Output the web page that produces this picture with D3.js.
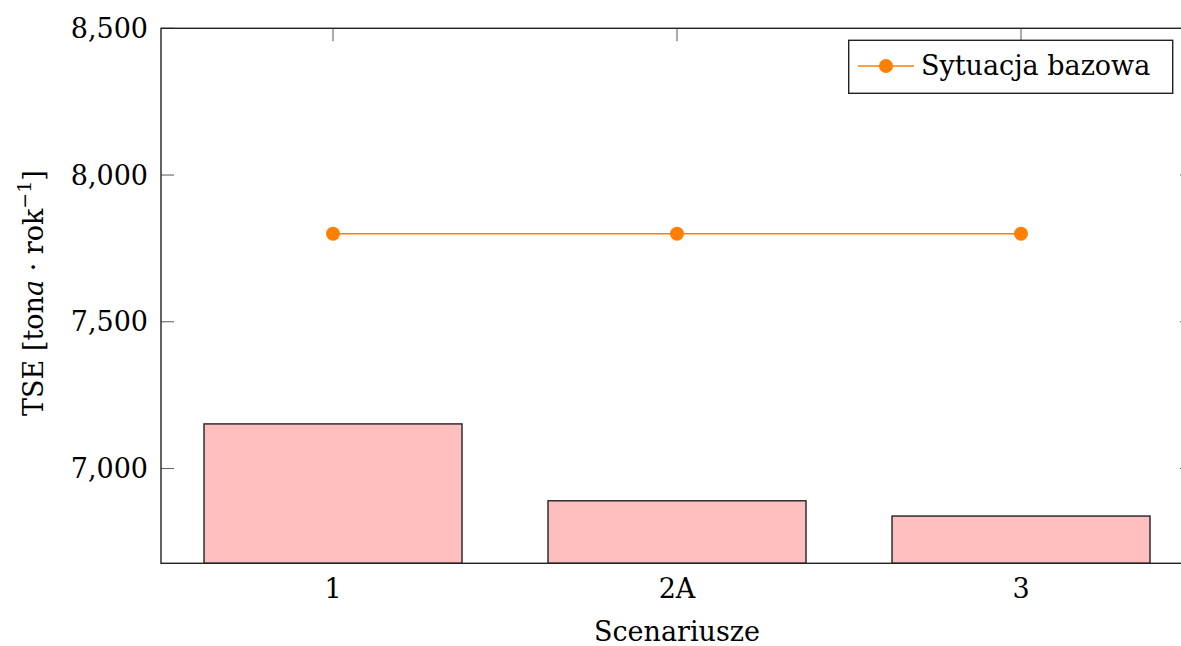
<!DOCTYPE html>
<html><head><meta charset="utf-8">
<script src="https://cdn.jsdelivr.net/npm/d3@7"></script>
<style>
html,body{margin:0;padding:0;background:#fff;}
svg{display:block;}
svg text{font-family:"DejaVu Serif","Liberation Serif",serif;}
</style></head>
<body>
<svg id="chart" width="1181" height="646"></svg>
<script>
const categories = ["1", "2A", "3"];
const tseValues = [7152, 6890, 6838];
const baseline = [7800, 7800, 7800];
const yTicks = [7000, 7500, 8000, 8500];
const seriesName = "Sytuacja bazowa";
const xTitle = "Scenariusze";

(function () {
const svg = d3.select("#chart");
const pL = 161, pR = 1193, pT = 28.3, pB = 563.3;
const x = d3.scalePoint().domain(categories).range([pL, pR]).padding(0.5);
const y = d3.scaleLinear().domain([6677, 8500]).range([pB, pT]);
const bw = x.step() * 0.75;
const fmt = d3.format(",");
const tickLen = 13;
const fs = 27;

// ticks (inward)
const tg = svg.append("g").attr("stroke", "#666").attr("stroke-width", 1.1);
yTicks.forEach(v => {
  tg.append("line").attr("x1", pL).attr("x2", pL + tickLen).attr("y1", y(v)).attr("y2", y(v));
  tg.append("line").attr("x1", pR).attr("x2", pR - tickLen).attr("y1", y(v)).attr("y2", y(v));
});
categories.forEach(c => {
  tg.append("line").attr("x1", x(c)).attr("x2", x(c)).attr("y1", pT).attr("y2", pT + tickLen);
  tg.append("line").attr("x1", x(c)).attr("x2", x(c)).attr("y1", pB).attr("y2", pB - tickLen);
});

// bars
svg.append("g").selectAll("rect").data(categories).join("rect")
  .attr("x", d => x(d) - bw / 2)
  .attr("y", (d, i) => y(tseValues[i]))
  .attr("width", bw)
  .attr("height", (d, i) => pB - y(tseValues[i]))
  .attr("fill", "#ffbfbf").attr("stroke", "#222").attr("stroke-width", 1.4);

// frame
svg.append("rect").attr("x", pL).attr("y", pT).attr("width", pR - pL).attr("height", pB - pT)
  .attr("fill", "none").attr("stroke", "#222").attr("stroke-width", 1.4);

// line series
const orange = "#ff8000";
svg.append("path").datum(categories)
  .attr("d", d3.line().x(d => x(d)).y((d, i) => y(baseline[i])))
  .attr("fill", "none").attr("stroke", orange).attr("stroke-width", 1.4);
svg.append("g").selectAll("circle").data(categories).join("circle")
  .attr("cx", d => x(d)).attr("cy", (d, i) => y(baseline[i])).attr("r", 7).attr("fill", orange);

// y tick labels
svg.append("g").selectAll("text").data(yTicks).join("text")
  .attr("x", 148).attr("y", d => y(d)).attr("dy", "0.36em")
  .attr("text-anchor", "end").attr("font-size", fs).attr("fill", "#000")
  .text(d => fmt(d));

// x tick labels
svg.append("g").selectAll("text").data(categories).join("text")
  .attr("x", d => x(d)).attr("y", 598)
  .attr("text-anchor", "middle").attr("font-size", fs).attr("fill", "#000")
  .text(d => d);

// x title
svg.append("text").attr("x", x(categories[1])).attr("y", 641)
  .attr("text-anchor", "middle").attr("font-size", fs).attr("fill", "#000").text(xTitle);

// y title
const yt = svg.append("text").attr("transform", "translate(43,293) rotate(-90)")
  .attr("text-anchor", "middle").attr("font-size", fs).attr("fill", "#000");
yt.append("tspan").text("TSE [ton");
yt.append("tspan").attr("font-style", "italic").text("a");
yt.append("tspan").text(" · rok");
yt.append("tspan").attr("font-size", 19).attr("dy", -12).text("−1");
yt.append("tspan").attr("dy", 12).text("]");

// legend
const lg = svg.append("g");
lg.append("rect").attr("x", 848.7).attr("y", 40.3).attr("width", 324).attr("height", 53)
  .attr("fill", "#fff").attr("stroke", "#222").attr("stroke-width", 1.4);
lg.append("line").attr("x1", 858).attr("x2", 914).attr("y1", 66).attr("y2", 66)
  .attr("stroke", orange).attr("stroke-width", 1.4);
lg.append("circle").attr("cx", 886).attr("cy", 66).attr("r", 7).attr("fill", orange);
lg.append("text").attr("x", 921).attr("y", 75).attr("font-size", fs).attr("fill", "#000").text(seriesName);
})();
</script>
</body></html>
